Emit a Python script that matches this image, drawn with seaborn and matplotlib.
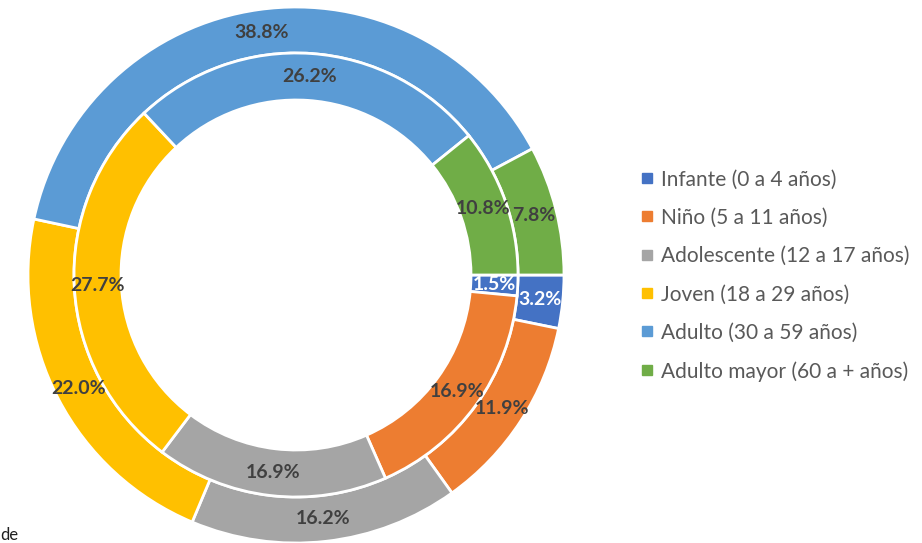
import numpy as np
import matplotlib
matplotlib.use("Agg")
import matplotlib.pyplot as plt
from matplotlib.lines import Line2D
import seaborn as sns

# grupos de edad - dos anillos (interior / exterior)
categorias = ["Infante (0 a 4 años)", "Niño (5 a 11 años)", "Adolescente (12 a 17 años)",
              "Joven (18 a 29 años)", "Adulto (30 a 59 años)", "Adulto mayor (60 a + años)"]
exterior = [3.2, 11.9, 16.2, 22.0, 38.8, 7.8]
interior = [1.5, 16.9, 16.9, 27.7, 26.2, 10.8]
colores = ["#4472C4", "#ED7D31", "#A5A5A5", "#FFC000", "#5B9BD5", "#70AD47"]
color_texto = ["white", "#404040", "#404040", "#404040", "#404040", "#404040"]

sns.set_theme(style="white")
plt.rcParams["font.family"] = ["Lato", "DejaVu Sans"]

fig = plt.figure(figsize=(9.22, 5.43), dpi=100)
# centro en (296, 275) px, radio 268 px
ax = fig.add_axes([28 / 922, 0.0, 536 / 922, 536 / 543])
ax.set_xlim(-1, 1)
ax.set_ylim(-1, 1)
ax.set_aspect("equal")
ax.axis("off")

r_ext = 1.0
r_med = 222 / 268
r_int = 175 / 268


def anillo(valores, radio, ancho):
    wedges, _ = ax.pie(valores, radius=radio, colors=colores, startangle=0,
                       counterclock=False, normalize=True,
                       wedgeprops=dict(width=ancho, edgecolor="white", linewidth=2))
    r_txt = radio - ancho / 2
    for w, v, c in zip(wedges, valores, color_texto):
        ang = np.deg2rad((w.theta1 + w.theta2) / 2)
        ax.text(r_txt * np.cos(ang), r_txt * np.sin(ang), f"{v:.1f}%",
                ha="center", va="center", fontsize=14, fontweight="bold", color=c)


anillo(exterior, r_ext, r_ext - r_med)
anillo(interior, r_med, r_med - r_int)
ax.set_xlim(-1, 1)
ax.set_ylim(-1, 1)

handles = [Line2D([0], [0], marker="s", ls="none", markersize=7,
                  markerfacecolor=c, markeredgecolor=c) for c in colores]
fig.legend(handles, categorias, loc="center left", bbox_to_anchor=(640 / 922, 0.4926),
           frameon=False, fontsize=15, labelcolor="#595959", handlelength=0.7,
           handletextpad=0.3, labelspacing=0.88, borderpad=0, borderaxespad=0)

fig.text(0.0, 1 - 540 / 543, "de", fontsize=12, color="#202020", ha="left", va="baseline")

fig.savefig("out.png", dpi=100)
